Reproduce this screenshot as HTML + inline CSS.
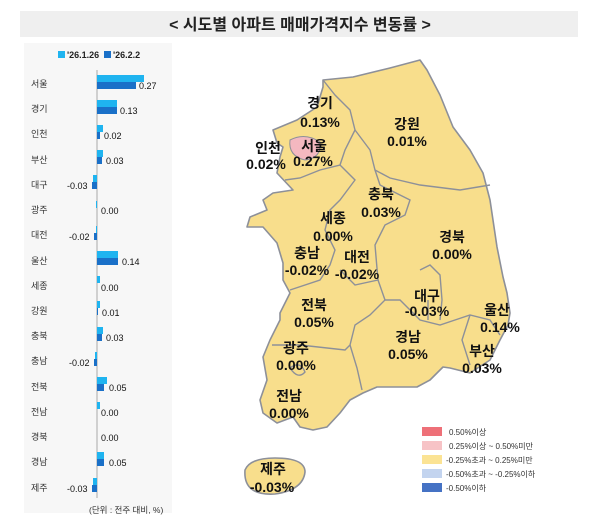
<!DOCTYPE html>
<html><head><meta charset="utf-8"><style>
html,body{margin:0;padding:0;background:#fff;}
svg{display:block;font-family:"Liberation Sans","Noto Sans CJK KR",sans-serif;}
.m{font-size:14px;font-weight:bold;fill:#111;text-anchor:middle;}
.b{font-size:9px;font-family:"Liberation Sans",sans-serif;fill:#111;}
.r{font-size:9px;fill:#333;}
</style></head><body>
<svg width="600" height="529" viewBox="0 0 600 529" xmlns="http://www.w3.org/2000/svg">
<rect x="20" y="11" width="558" height="26" fill="#efefef"/>
<text x="300" y="30" text-anchor="middle" font-size="16" font-weight="bold" fill="#222">&lt; 시도별 아파트 매매가격지수 변동률 &gt;</text>
<rect x="24" y="43" width="148" height="470" fill="#f7f7f7"/>
<rect x="58" y="51" width="7" height="7" fill="#1fb4f0"/>
<text x="67" y="58" font-size="9" font-weight="bold" fill="#222">'26.1.26</text>
<rect x="104" y="51" width="7" height="7" fill="#1a70c8"/>
<text x="113" y="58" font-size="9" font-weight="bold" fill="#222">'26.2.2</text>
<line x1="97" y1="70" x2="97" y2="498" stroke="#aaa" stroke-width="1"/>
<g id="bars"></g>
<g>
<!-- rows -->
<g class="r">
<text x="31" y="87">서울</text><text x="31" y="112">경기</text><text x="31" y="137">인천</text><text x="31" y="163">부산</text>
<text x="31" y="188">대구</text><text x="31" y="213">광주</text><text x="31" y="238">대전</text><text x="31" y="264">울산</text>
<text x="31" y="289">세종</text><text x="31" y="314">강원</text><text x="31" y="339">충북</text><text x="31" y="364">충남</text>
<text x="31" y="390">전북</text><text x="31" y="415">전남</text><text x="31" y="440">경북</text><text x="31" y="465">경남</text><text x="31" y="491">제주</text>
</g>
<!-- light bars -->
<g fill="#1fb4f0">
<rect x="97" y="75" width="47" height="7"/><rect x="97" y="100" width="20" height="7"/><rect x="97" y="125" width="6" height="7"/>
<rect x="97" y="150" width="6" height="7"/><rect x="93" y="175" width="4" height="7"/><rect x="96" y="201" width="1" height="7"/>
<rect x="96" y="226" width="1" height="7"/><rect x="97" y="251" width="21" height="7"/><rect x="97" y="276" width="3" height="7"/>
<rect x="97" y="301" width="3" height="7"/><rect x="97" y="327" width="6" height="7"/><rect x="95" y="352" width="2" height="7"/>
<rect x="97" y="377" width="10" height="7"/><rect x="97" y="402" width="3" height="7"/><rect x="97" y="452" width="7" height="7"/>
<rect x="93" y="478" width="4" height="7"/>
</g>
<g fill="#1a70c8">
<rect x="97" y="82" width="39" height="7"/><rect x="97" y="107" width="20" height="7"/><rect x="97" y="132" width="3" height="7"/>
<rect x="97" y="157" width="5" height="7"/><rect x="92" y="182" width="5" height="7"/><rect x="94" y="233" width="3" height="7"/>
<rect x="97" y="258" width="21" height="7"/><rect x="97" y="308" width="1" height="7"/><rect x="97" y="334" width="5" height="7"/>
<rect x="94" y="359" width="3" height="7"/><rect x="97" y="384" width="7" height="7"/><rect x="97" y="459" width="7" height="7"/>
<rect x="92" y="485" width="5" height="7"/>
</g>
<g class="b">
<text x="139" y="89">0.27</text><text x="120" y="114">0.13</text><text x="104" y="139">0.02</text><text x="106" y="164">0.03</text>
<text x="67" y="189">-0.03</text><text x="101" y="214">0.00</text><text x="69" y="240">-0.02</text><text x="122" y="265">0.14</text>
<text x="101" y="291">0.00</text><text x="102" y="316">0.01</text><text x="106" y="341">0.03</text><text x="69" y="366">-0.02</text>
<text x="109" y="391">0.05</text><text x="101" y="416">0.00</text><text x="101" y="441">0.00</text><text x="109" y="466">0.05</text>
<text x="67" y="492">-0.03</text>
</g>
<text x="89" y="513" font-size="8.5" fill="#333">(단위 : 전주 대비, %)</text>
</g>
<!-- map -->
<g stroke="#8d9099" stroke-width="1.6" fill="#f8de8c" stroke-linejoin="round">
<path d="M323,80 L353,77 L390,68 L420,60 L427,70 L440,95 L453,127 L470,150 L483,173 L490,200 L497,247 L503,277 L507,293 L510,313 L508,325 L500,340 L490,360 L470,373 L450,368 L443,367 L430,380 L417,387 L393,387 L377,387 L363,393 L350,400 L340,413 L327,427 L313,430 L300,427 L293,417 L277,423 L263,413 L260,400 L267,380 L263,357 L270,340 L280,320 L280,313 L290,293 L283,280 L283,263 L277,243 L263,227 L247,227 L250,217 L267,210 L263,200 L273,193 L293,190 L277,173 L280,157 L283,147 L277,143 L273,130 L297,120 L317,107 L323,87 Z"/>
<path d="M245,470 Q250,458 275,458 Q305,458 305,472 Q303,490 275,494 Q243,496 245,470 Z"/>
</g>
<g stroke="#8d9099" stroke-width="1.4" fill="none">
<path d="M323,80 L335,95 L350,110 L355,130 L345,150 L340,165 L320,170 L300,178 L285,180"/>
<path d="M355,130 L370,150 L375,170 L390,178 L420,185 L460,190 L490,185"/>
<path d="M340,165 L355,180 L340,200 L330,210 L325,230 L335,250 L330,265 L320,280 L290,290"/>
<path d="M375,170 L380,185 L410,200 L405,215 L385,225 L375,245 L378,280 L355,285 L340,270"/>
<path d="M378,280 L385,300 L370,315 L355,325 L350,345 L345,350 L300,345 L272,345"/>
<path d="M385,300 L400,300 L420,320 L440,325 L455,320 L470,315 L490,320 L500,335"/>
<path d="M350,345 L357,368 L362,390"/>
<path d="M470,315 L462,340 L470,365"/>
<path d="M420,270 L430,265 L440,275 L442,300 L440,320 M428,300 L428,320"/>
<path d="M290,368 Q300,360 305,372 Q298,380 290,368 Z"/>
</g>
<path d="M290,140 Q305,132 320,142 Q322,158 305,160 Q288,156 290,140 Z" fill="#f4b8c0" stroke="#8d9099" stroke-width="1"/>
<g class="m">
<text x="320" y="108">경기</text><text x="320" y="127">0.13%</text>
<text x="407" y="129">강원</text><text x="407" y="146">0.01%</text>
<text x="268" y="153">인천</text><text x="266" y="169">0.02%</text>
<text x="314" y="151">서울</text><text x="313" y="166">0.27%</text>
<text x="381" y="199">충북</text><text x="381" y="217">0.03%</text>
<text x="333" y="223">세종</text><text x="333" y="241">0.00%</text>
<text x="452" y="242">경북</text><text x="452" y="259">0.00%</text>
<text x="307" y="258">충남</text><text x="307" y="275">-0.02%</text>
<text x="357" y="262">대전</text><text x="357" y="279">-0.02%</text>
<text x="427" y="301">대구</text><text x="427" y="316">-0.03%</text>
<text x="497" y="315">울산</text><text x="500" y="332">0.14%</text>
<text x="314" y="310">전북</text><text x="314" y="327">0.05%</text>
<text x="408" y="342">경남</text><text x="408" y="359">0.05%</text>
<text x="482" y="356">부산</text><text x="482" y="373">0.03%</text>
<text x="296" y="353">광주</text><text x="296" y="370">0.00%</text>
<text x="289" y="401">전남</text><text x="289" y="418">0.00%</text>
<text x="273" y="474">제주</text><text x="272" y="492">-0.03%</text>
</g>
<!-- legend -->
<rect x="422" y="427" width="20" height="9" fill="#ee7078"/>
<rect x="422" y="441" width="20" height="9" fill="#f7c3c6"/>
<rect x="422" y="455" width="20" height="9" fill="#fbe394"/>
<rect x="422" y="469" width="20" height="9" fill="#c3d4ef"/>
<rect x="422" y="483" width="20" height="9" fill="#4572c4"/>
<g font-size="8" fill="#333">
<text x="449" y="435">0.50%이상</text>
<text x="449" y="449">0.25%이상 ~ 0.50%미만</text>
<text x="446" y="463">-0.25%초과 ~ 0.25%미만</text>
<text x="446" y="477">-0.50%초과 ~ -0.25%이하</text>
<text x="446" y="491">-0.50%이하</text>
</g>
</svg>
</body></html>
